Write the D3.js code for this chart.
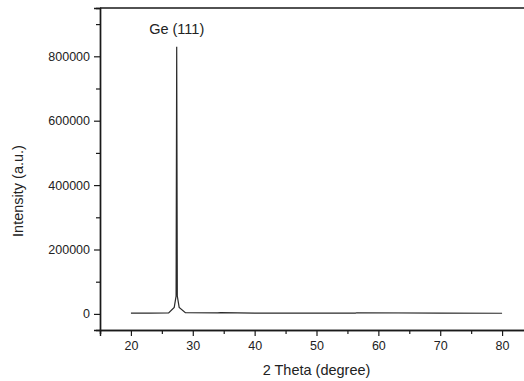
<!DOCTYPE html>
<html>
<head>
<meta charset="utf-8">
<script src="https://cdn.jsdelivr.net/npm/d3@7"></script>
<style>
  html, body { margin: 0; padding: 0; background: #fff; }
  svg { display: block; font-family: "Liberation Sans", Arial, sans-serif; }
</style>
</head>
<body>
<svg id="chart" width="524" height="381"></svg>
<script>
// ---- data ----
const twoTheta  = [20, 23, 26.1, 27.0, 27.3, 27.4, 27.5, 27.8, 28.8, 34, 34.5, 40, 56.3, 56.5, 70, 80];
const intensity = [2500, 2600, 3000, 20000, 55000, 830000, 55000, 20000, 3500, 3000, 4000, 2500, 2500, 3500, 2200, 2000];
const xMajorTicks = [20, 30, 40, 50, 60, 70, 80];
const xMinorTicks = [15, 25, 35, 45, 55, 65, 75, 85];
const yMajorTicks = [0, 200000, 400000, 600000, 800000];
const yMinorTicks = [100000, 300000, 500000, 700000, 900000];
const peakLabel = "Ge (111)";
const peakLabelPos = 27.4;
const xTitle = "2 Theta (degree)";
const yTitle = "Intensity (a.u.)";

// ---- layout ----
const svg = d3.select("#chart");
const mLeft = 100, mRight = 533, mTop = 8, mBottom = 330;
const x = d3.scaleLinear().domain([15, 85]).range([mLeft, mRight]);
const y = d3.scaleLinear().domain([-50000, 950000]).range([mBottom, mTop]);
const ink = "#1a1a1a";

// frame (top + right)
svg.append("path")
  .attr("d", `M${mLeft},${mTop}H${mRight}V${mBottom}`)
  .attr("fill", "none").attr("stroke", ink).attr("stroke-width", 1.4);

// x axis
const gx = svg.append("g").attr("transform", `translate(0,${mBottom})`);
gx.append("g").call(d3.axisBottom(x).tickValues(xMinorTicks).tickSize(4).tickFormat(""));
gx.append("g").call(d3.axisBottom(x).tickValues(xMajorTicks).tickSize(6).tickPadding(5).tickFormat(d3.format("d")));
gx.selectAll(".domain").attr("stroke", ink).attr("stroke-width", 1.4);
gx.selectAll(".tick line").attr("stroke", ink).attr("stroke-width", 1.2);
gx.selectAll(".tick text").attr("fill", "#222").attr("font-size", "12.5px")
  .attr("font-family", "'Liberation Sans', Arial, sans-serif");

// y axis
const gy = svg.append("g").attr("transform", `translate(${mLeft},0)`);
gy.append("g").call(d3.axisLeft(y).tickValues(yMinorTicks).tickSize(4).tickFormat(""));
gy.append("g").call(d3.axisLeft(y).tickValues(yMajorTicks).tickSize(6).tickPadding(4).tickFormat(d3.format("d")));
gy.selectAll(".domain").attr("stroke", ink).attr("stroke-width", 1.4);
gy.selectAll(".tick line").attr("stroke", ink).attr("stroke-width", 1.2);
gy.selectAll(".tick text").attr("fill", "#222").attr("font-size", "12.5px")
  .attr("font-family", "'Liberation Sans', Arial, sans-serif");

// data line
const pts = twoTheta.map((t, i) => [t, intensity[i]]);
svg.append("path")
  .datum(pts)
  .attr("fill", "none")
  .attr("stroke", "#2a2a2a")
  .attr("stroke-width", 1.2)
  .attr("stroke-linejoin", "miter")
  .attr("d", d3.line().x(d => x(d[0])).y(d => y(d[1])));

// peak label
svg.append("text")
  .attr("x", x(peakLabelPos)).attr("y", 34)
  .attr("text-anchor", "middle")
  .attr("font-size", "14.5px").attr("fill", "#222")
  .text(peakLabel);

// axis titles
svg.append("text")
  .attr("x", (mLeft + mRight) / 2).attr("y", 375)
  .attr("text-anchor", "middle")
  .attr("font-size", "14.5px").attr("fill", "#222")
  .text(xTitle);

svg.append("text")
  .attr("transform", `translate(23,191) rotate(-90)`)
  .attr("text-anchor", "middle")
  .attr("font-size", "14.5px").attr("fill", "#222")
  .text(yTitle);
</script>
</body>
</html>
